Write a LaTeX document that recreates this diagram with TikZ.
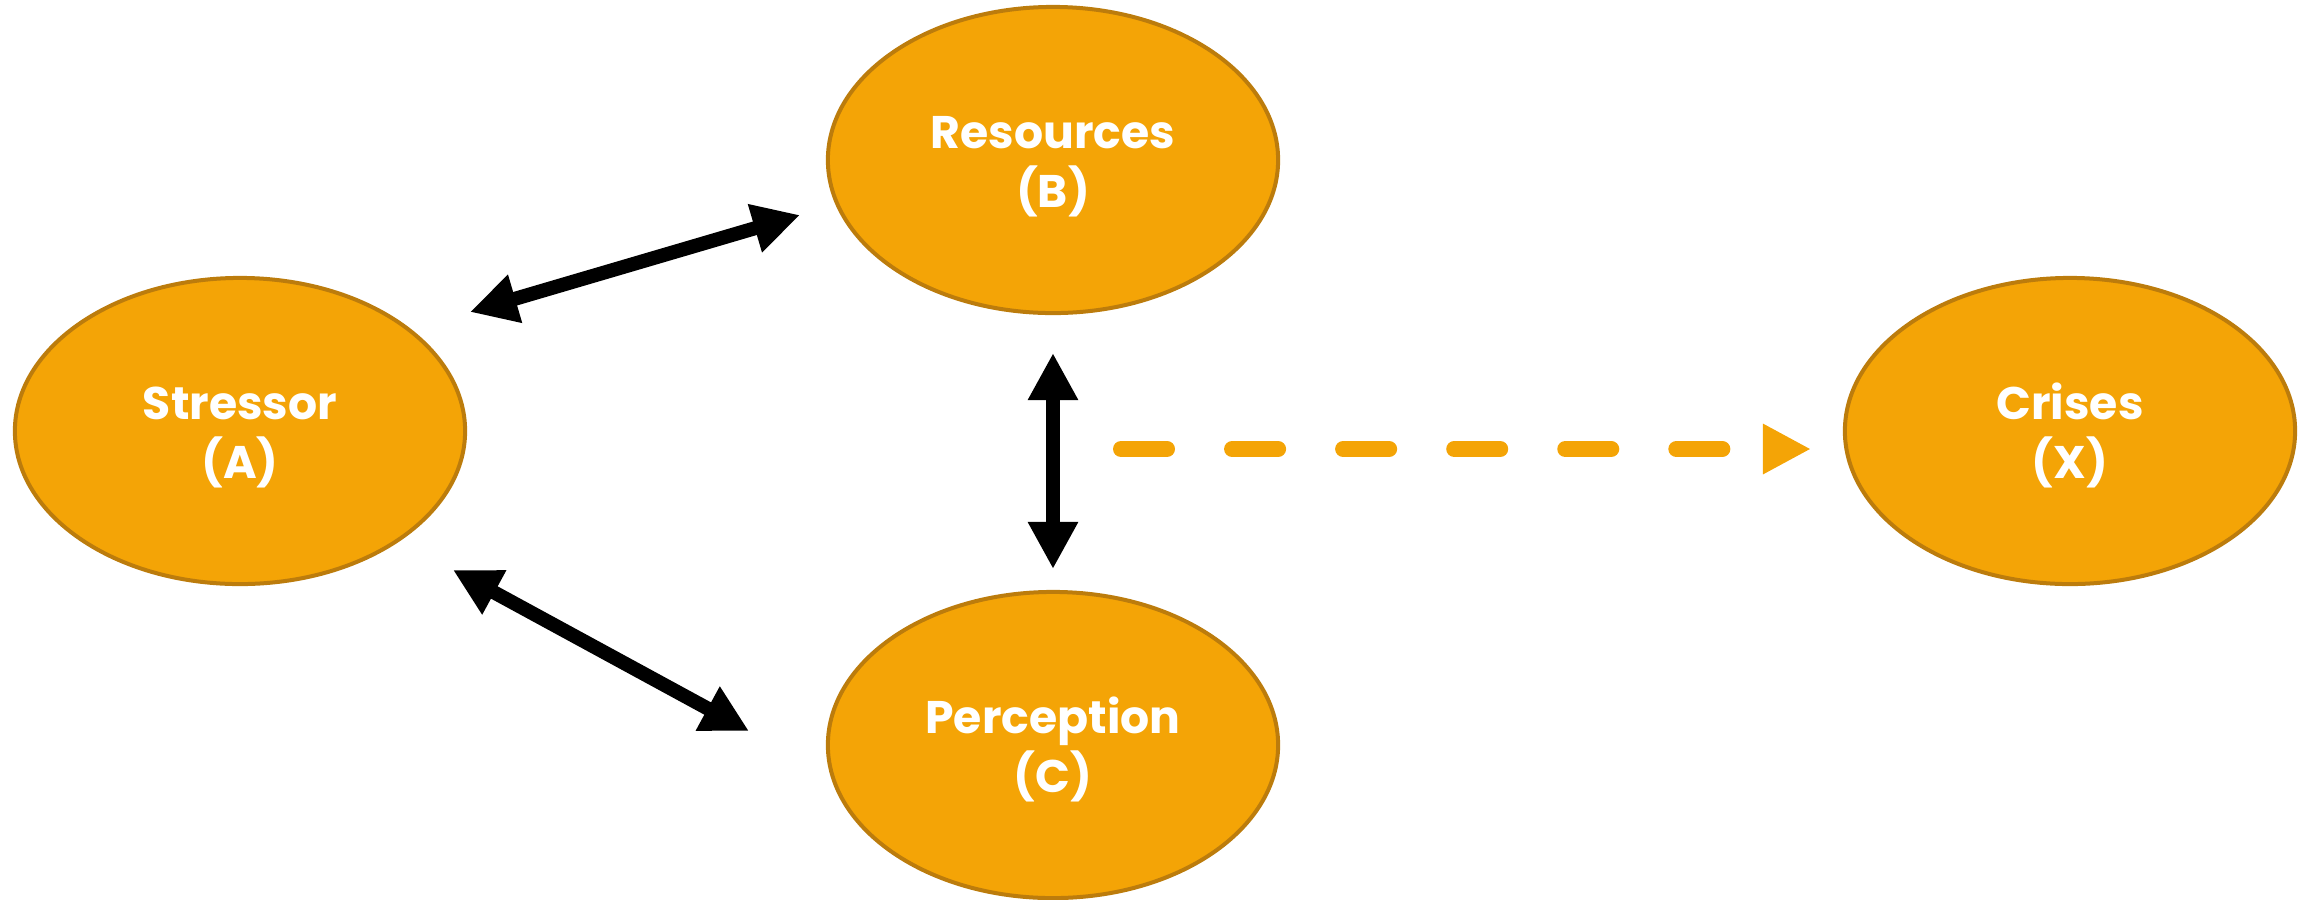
\documentclass[tikz,border=0pt]{standalone}
\usepackage{fontspec}
\setmainfont{Poppins}
\usetikzlibrary{shapes.geometric,arrows.meta,calc}
\definecolor{amber}{HTML}{F4A406}
\definecolor{amberline}{HTML}{BC7C0C}
\newcommand\lift{\rule{0pt}{0.45cm}}
\tikzset{
	factor/.style={ellipse, draw=amberline, line width=0.04cm, fill=amber, minimum width=4.5cm, minimum height=3.06cm, inner sep=0pt, align=center, text=white, font=\bfseries\fontsize{13}{16.8}\selectfont},
	link/.style={line width=0.14cm, {Triangle[width=0.47cm,length=0.47cm]}-{Triangle[width=0.47cm,length=0.47cm]}},
	lead/.style={draw=amber, line width=0.16cm, line cap=round, dash pattern=on 0.46cm off 0.65cm, -{Triangle[width=0.47cm,length=0.48cm,fill=amber]}}
}

\begin{document}
\begin{tikzpicture}[x=0.01cm, y=-0.01cm]
				\useasboundingbox (0,0) rectangle (2308,899);
				\path (240,431) node[factor] (stressor){\lift Stressor\\(A)}
				(1053,160) node[factor] (resources){\lift Resources\\(B)}
				(1053,745) node[factor] (perception){\lift Perception\\(C)}
				(2070,431) node[factor] (crises){\lift Crises\\(X)};
				
				\coordinate (ab1) at ($(stressor)+(230,-119)$);
				\coordinate (ab2) at ($(resources)+(-253,55)$);
				\coordinate (ac1) at ($(stressor)+(213,139)$);
				\coordinate (ac2) at ($(perception)+(-304,-14)$);
				\coordinate (bc1) at ($(resources)+(0,193)$);
				\coordinate (bc2) at ($(perception)+(0,-176)$);
				\coordinate (bx1) at ($(resources)+(68,289)$);
				\coordinate (bx2) at ($(crises)+(-259,18)$);
				
				\draw[link] (ab1) -- (ab2);
				\draw[link] (ac1) -- (ac2);
				\draw[link] (bc1) -- (bc2);
				\draw[lead] (bx1) -- (bx2);
			\end{tikzpicture}
\end{document}
